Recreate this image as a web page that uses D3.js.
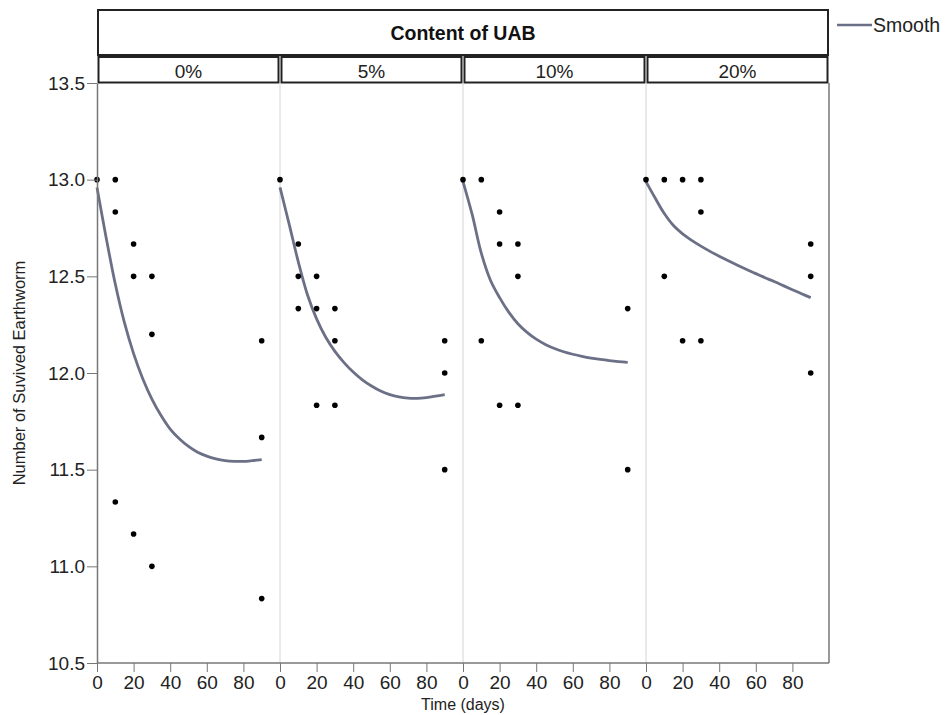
<!DOCTYPE html>
<html>
<head>
<meta charset="utf-8">
<script src="https://cdn.jsdelivr.net/npm/d3@7"></script>
<style>
  body { margin: 0; background: #fff; }
  svg { display: block; font-family: "Liberation Sans", Arial, Helvetica, sans-serif; }
</style>
</head>
<body>
<div id="chart"></div>
<script>
// facets (content of UAB)
const contents = ["0%", "5%", "10%", "20%"];

// observed survivors, [day, count] per facet
const obs0 = [[0,13.0],[10,13.0],[10,12.833],[10,11.333],[20,12.667],[20,12.5],[20,11.167],
              [30,12.5],[30,12.2],[30,11.0],[90,12.167],[90,11.667],[90,10.833]];
const obs5 = [[0,13.0],[10,12.667],[10,12.5],[10,12.333],[20,12.5],[20,12.333],[20,11.833],
              [30,12.333],[30,12.167],[30,11.833],[90,12.167],[90,12.0],[90,11.5]];
const obs10 = [[0,13.0],[10,13.0],[10,12.167],[20,12.833],[20,12.667],[20,11.833],
               [30,12.667],[30,12.5],[30,11.833],[90,12.333],[90,11.5]];
const obs20 = [[0,13.0],[10,13.0],[10,12.5],[20,13.0],[20,12.167],[30,13.0],[30,12.833],
               [30,12.167],[90,12.667],[90,12.5],[90,12.0]];

// smooth line
const smoothDays = [0,5,10,15,20,25,30,35,40,45,50,55,60,65,70,75,80,85,90];
const smooth0 = [12.96,12.70,12.46,12.26,12.10,11.97,11.865,11.78,11.71,11.66,11.62,11.59,11.57,11.556,11.547,11.543,11.543,11.547,11.552];
const smooth5 = [12.96,12.77,12.575,12.405,12.28,12.185,12.112,12.054,12.005,11.965,11.933,11.907,11.888,11.876,11.87,11.869,11.873,11.88,11.888];
const smooth10 = [12.99,12.82,12.62,12.48,12.39,12.315,12.255,12.21,12.175,12.148,12.127,12.11,12.097,12.086,12.077,12.07,12.064,12.059,12.055];
const smooth20 = [12.99,12.905,12.825,12.763,12.72,12.686,12.656,12.629,12.604,12.58,12.557,12.535,12.514,12.493,12.473,12.452,12.431,12.41,12.39];

const yTicks = [10.5, 11.0, 11.5, 12.0, 12.5, 13.0, 13.5];
const xTicks = [0, 20, 40, 60, 80];

const observed = [obs0, obs5, obs10, obs20];
const smooths = [smooth0, smooth5, smooth10, smooth20];

const width = 950, height = 715;
const plotLeft = 97, plotTop = 83, plotBottom = 663;
const panelW = 183;

const svg = d3.select("#chart").append("svg")
    .attr("width", width).attr("height", height);

const y = d3.scaleLinear().domain([10.5, 13.5]).range([plotBottom, plotTop]);
const x = d3.scaleLinear().domain([0, 100]).range([0, panelW]);

const lineCol = "#6c7086";
const axisCol = "#777";

// header box
svg.append("rect")
    .attr("x", plotLeft + 1).attr("y", 10)
    .attr("width", panelW * 4 - 2).attr("height", 45)
    .attr("fill", "#fff").attr("stroke", "#222").attr("stroke-width", 2);
svg.append("text")
    .attr("x", plotLeft + panelW * 2).attr("y", 40)
    .attr("text-anchor", "middle")
    .attr("font-size", 19.5).attr("font-weight", "bold").attr("fill", "#111")
    .text("Content of UAB");

const line = d3.line()
    .x((d, i) => x(smoothDays[i]))
    .y(d => y(d))
    .curve(d3.curveCatmullRom);

contents.forEach((c, i) => {
    const g = svg.append("g").attr("transform", `translate(${plotLeft + i * panelW},0)`);

    // strip
    g.append("rect")
        .attr("x", 1.5).attr("y", 57)
        .attr("width", panelW - 3).attr("height", 25.5)
        .attr("fill", "#fff").attr("stroke", "#222").attr("stroke-width", 2);
    g.append("text")
        .attr("x", panelW / 2).attr("y", 78)
        .attr("text-anchor", "middle")
        .attr("font-size", 19).attr("fill", "#222")
        .text(c);

    // panel separator
    if (i > 0) {
        g.append("line")
            .attr("x1", 0).attr("x2", 0)
            .attr("y1", plotTop).attr("y2", plotBottom)
            .attr("stroke", "#d4d4d4").attr("stroke-width", 1);
    }

    // x axis for this panel
    const xa = g.append("g")
        .attr("transform", `translate(0,${plotBottom})`)
        .call(d3.axisBottom(x).tickValues(xTicks).tickSize(9).tickPadding(4).tickSizeOuter(0));
    xa.select(".domain").remove();
    xa.selectAll("line").attr("stroke", axisCol);
    xa.selectAll("text").attr("font-size", 19).attr("fill", "#222");
    xa.attr("font-family", null);

    // smooth
    g.append("path")
        .datum(smooths[i])
        .attr("d", line)
        .attr("fill", "none")
        .attr("stroke", lineCol)
        .attr("stroke-width", 2.8);

    // points
    g.selectAll("circle.pt")
        .data(observed[i])
        .join("circle")
        .attr("class", "pt")
        .attr("cx", d => x(d[0]))
        .attr("cy", d => y(d[1]))
        .attr("r", 2.8)
        .attr("fill", "#000");
});

// frame lines
svg.append("line")
    .attr("x1", plotLeft).attr("x2", plotLeft + panelW * 4)
    .attr("y1", plotBottom).attr("y2", plotBottom)
    .attr("stroke", axisCol).attr("stroke-width", 1.5);
svg.append("line")
    .attr("x1", plotLeft + panelW * 4).attr("x2", plotLeft + panelW * 4)
    .attr("y1", plotTop).attr("y2", plotBottom)
    .attr("stroke", axisCol).attr("stroke-width", 1.5);

// y axis
const ya = svg.append("g")
    .attr("transform", `translate(${plotLeft},0)`)
    .call(d3.axisLeft(y).tickValues(yTicks).tickFormat(d3.format(".1f")).tickSize(10).tickPadding(2).tickSizeOuter(0));
ya.attr("font-family", null);
ya.select(".domain").attr("stroke", axisCol).attr("stroke-width", 1.5);
ya.selectAll("line").attr("stroke", axisCol);
ya.selectAll("text").attr("font-size", 19).attr("fill", "#222");

// axis titles
svg.append("text")
    .attr("transform", `translate(25,${(plotTop + plotBottom) / 2}) rotate(-90)`)
    .attr("text-anchor", "middle")
    .attr("font-size", 16.5).attr("fill", "#222")
    .text("Number of Suvived Earthworm");
svg.append("text")
    .attr("x", plotLeft + panelW * 2).attr("y", 710)
    .attr("text-anchor", "middle")
    .attr("font-size", 16).attr("fill", "#222")
    .text("Time (days)");

// legend
svg.append("line")
    .attr("x1", 837).attr("x2", 872)
    .attr("y1", 25).attr("y2", 25)
    .attr("stroke", lineCol).attr("stroke-width", 2.5);
svg.append("text")
    .attr("x", 873).attr("y", 32)
    .attr("font-size", 19.5).attr("fill", "#222")
    .text("Smooth");
</script>
</body>
</html>
